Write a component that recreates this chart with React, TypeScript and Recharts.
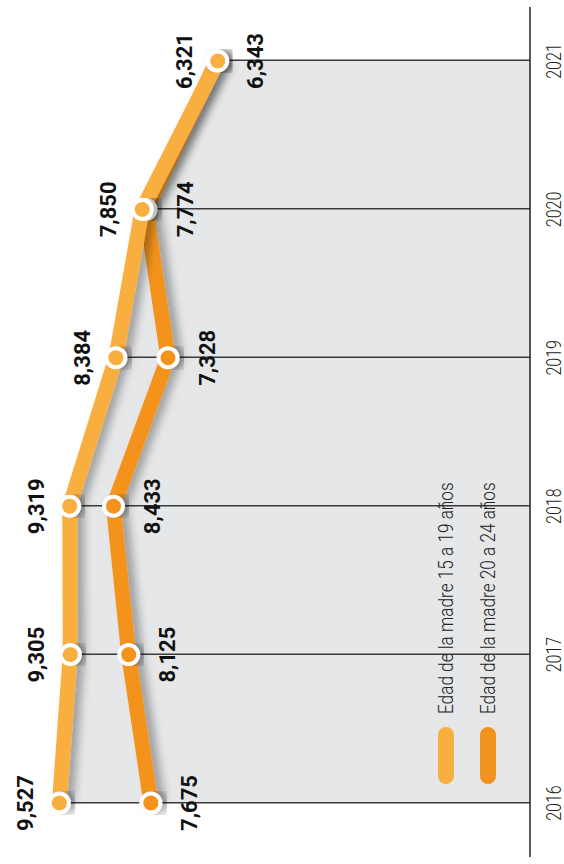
import React from "react";
import { ComposedChart, Area, Bar, Line, XAxis, YAxis, LabelList } from "recharts";

const years = ["2016", "2017", "2018", "2019", "2020", "2021"];
const madre15a19 = [9527, 9305, 9319, 8384, 7850, 6321];
const madre20a24 = [7675, 8125, 8433, 7328, 7774, 6343];
const seriesNames = ["Edad de la madre 15 a 19 años", "Edad de la madre 20 a 24 años"];

const COLORS = {
  light: "#F9AE40",
  dark: "#F3931F",
  area: "#E6E7E8",
  grid: "#3A3A3A",
  axis: "#231F20",
  text: "#111111"
};

// table for recharts; "top" is the longer of the two values, used for the guide lines
const data = years.map((year, i) => ({
  year,
  a: madre15a19[i],
  b: madre20a24[i],
  top: Math.max(madre15a19[i], madre20a24[i])
}));

const fmt = (v: any) => Number(v).toLocaleString("en-US");

const YearTick = ({ x, y, payload }: any) => (
  <g transform={`translate(${x},${y + 31}) scale(0.8,1)`}>
    <text x={0} y={0} textAnchor="middle" fontFamily="Roboto" fontWeight={300} fontSize={20} fill={COLORS.axis}>
      {payload.value}
    </text>
  </g>
);

const labelStyle = {
  fontFamily: "Roboto",
  fontWeight: 700,
  fontSize: 22,
  fill: COLORS.text
};

function LegendBox() {
  const cols = [COLORS.light, COLORS.dark];
  return (
    <svg width={440} height={90} style={{ position: "absolute", left: 80, top: 428, overflow: "visible" }}>
      {seriesNames.map((name, i) => (
        <g key={name} transform={`translate(0,${10 + i * 42})`}>
          <rect x={0} y={0} width={57} height={16} rx={8} fill={cols[i]} />
          <g transform="translate(70,15) scale(0.86,1)">
            <text x={0} y={0} fontFamily="Roboto" fontWeight={300} fontSize={20} fill="#222">
              {name}
            </text>
          </g>
        </g>
      ))}
    </svg>
  );
}

export default function App() {
  return (
    <div style={{ position: "absolute", left: 0, top: 0, width: 564, height: 864, overflow: "hidden", background: "#fff" }}>
      <div
        style={{
          position: "absolute",
          left: 0,
          top: 0,
          width: 864,
          height: 564,
          transformOrigin: "0 0",
          transform: "translate(0px, 864px) rotate(-90deg)"
        }}
      >
        <ComposedChart width={864} height={564} data={data} margin={{ top: 36, right: 7, bottom: 0, left: 7 }}>
          <defs>
            <filter id="lineShadow" x="-10%" y="-30%" width="120%" height="160%">
              <feDropShadow dx="0" dy="7" stdDeviation="4" floodColor="#000" floodOpacity="0.3" />
            </filter>
          </defs>
          <XAxis
            dataKey="year"
            scale="point"
            padding={{ left: 54, right: 54 }}
            interval={0}
            height={34}
            tickLine={false}
            tickSize={0}
            tickMargin={0}
            axisLine={{ stroke: COLORS.axis, strokeWidth: 1.5 }}
            tick={<YearTick />}
          />
          <XAxis xAxisId="bars" dataKey="year" hide padding={{ left: -20.5, right: -20.5 }} />
          <YAxis hide domain={[0, 10000]} />

          <Area dataKey="a" fill={COLORS.area} fillOpacity={1} stroke="none" isAnimationActive={false} />
          <Area dataKey="b" fill={COLORS.area} fillOpacity={1} stroke="none" isAnimationActive={false} />
          <Bar xAxisId="bars" dataKey="top" barSize={1.4} fill={COLORS.grid} isAnimationActive={false} />

          <Line
            dataKey="b"
            stroke={COLORS.dark}
            strokeWidth={15}
            strokeLinejoin="round"
            filter="url(#lineShadow)"
            dot={{ r: 9.5, fill: COLORS.dark, stroke: "#fff", strokeWidth: 4 }}
            isAnimationActive={false}
          >
            <LabelList dataKey="b" position="bottom" offset={31} formatter={fmt} {...labelStyle} />
          </Line>
          <Line
            dataKey="a"
            stroke={COLORS.light}
            strokeWidth={15}
            strokeLinejoin="round"
            filter="url(#lineShadow)"
            dot={{ r: 9.5, fill: COLORS.light, stroke: "#fff", strokeWidth: 4 }}
            isAnimationActive={false}
          >
            <LabelList dataKey="a" position="top" offset={26} formatter={fmt} {...labelStyle} />
          </Line>
        </ComposedChart>
        <LegendBox />
      </div>
    </div>
  );
}
